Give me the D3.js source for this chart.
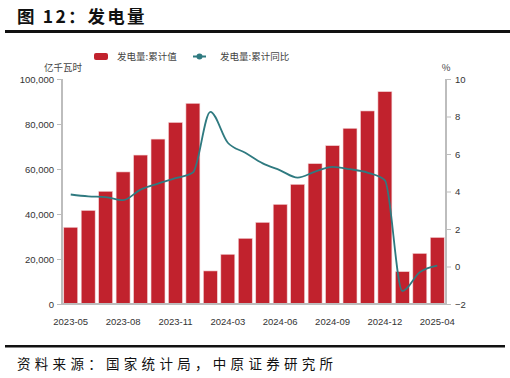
<!DOCTYPE html>
<html><head><meta charset="utf-8">
<script src="https://cdn.jsdelivr.net/npm/d3@7"></script>
<style>body{margin:0;background:#fff}svg{display:block}</style>
</head><body>
<script>
const categories = ["2023-05","2023-06","2023-07","2023-08","2023-09","2023-10","2023-11","2023-12",
  "2024-02","2024-03","2024-04","2024-05","2024-06","2024-07","2024-08","2024-09","2024-10","2024-11","2024-12",
  "2025-02","2025-03","2025-04"];
const cumValue = [34100,41600,50100,58700,66200,73300,80700,89200,
  14700,22100,29200,36300,44300,53200,62400,70400,78100,85800,94400,
  14400,22500,29600];
const cumYoY = [3.84,3.74,3.70,3.54,4.10,4.42,4.71,5.01,
  8.25,6.6,6.07,5.5,5.13,4.74,5.06,5.31,5.19,5.01,4.6,
  -1.31,-0.3,0.05];
const leftTicks = [0,20000,40000,60000,80000,100000];
const rightTicks = [-2,0,2,4,6,8,10];
const xTickLabels = ["2023-05","2023-08","2023-11","2024-03","2024-06","2024-09","2024-12","2025-04"];

const W=510,H=378;
const svg=d3.select("body").append("svg").attr("width",W).attr("height",H);
const x0=62,x1=446,yT=79,yB=304;
const x=d3.scaleBand().domain(categories).range([x0,x1]).paddingInner(0.2).paddingOuter(0.1);
const yL=d3.scaleLinear().domain([0,100000]).range([yB,yT]);
const yR=d3.scaleLinear().domain([-2,10]).range([yB,yT]);
const font="'Noto Sans CJK SC','Noto Sans',sans-serif";

// title
svg.append("text").attr("x",17).attr("y",23).attr("font-family",font).attr("font-weight","bold")
  .attr("font-size",17.5).attr("letter-spacing",2.2).attr("fill","#111").text("图 12：发电量");
svg.append("rect").attr("x",5).attr("y",30).attr("width",505).attr("height",3).attr("fill","#111");
svg.append("rect").attr("x",5).attr("y",345).attr("width",500).attr("height",2.5).attr("fill","#111");
svg.append("text").attr("x",17).attr("y",369).attr("font-family",font).attr("font-size",13.5)
  .attr("letter-spacing",4.3).attr("fill","#111").text("资料来源：国家统计局，中原证券研究所");

// bars
svg.append("g").selectAll("rect").data(categories).join("rect")
  .attr("x",d=>x(d)).attr("width",x.bandwidth())
  .attr("y",(d,i)=>yL(cumValue[i])).attr("height",(d,i)=>yB-yL(cumValue[i]))
  .attr("fill","#C1222D").attr("stroke","#f3d6d8").attr("stroke-width",0.6);

// line
const line=d3.line().x((d,i)=>x(categories[i])+x.bandwidth()/2).y(d=>yR(d)).curve(d3.curveMonotoneX);
svg.append("path").datum(cumYoY).attr("d",line).attr("fill","none").attr("stroke","#2F7A80").attr("stroke-width",1.8);

// axes
const axisColor="#bdbdbd";
const gl=svg.append("g").attr("transform",`translate(${x0},0)`).call(d3.axisLeft(yL).tickValues(leftTicks).tickFormat(d3.format(",")).tickSize(5).tickPadding(3));
const gr=svg.append("g").attr("transform",`translate(${x1},0)`).call(d3.axisRight(yR).tickValues(rightTicks).tickSize(5).tickPadding(4));
const gb=svg.append("g").attr("transform",`translate(0,${yB})`).call(d3.axisBottom(x).tickValues(xTickLabels).tickSize(0).tickPadding(14));
[gl,gr,gb].forEach(g=>{
  g.selectAll(".domain").attr("stroke",axisColor).attr("stroke-width",2);
  g.selectAll(".tick line").attr("stroke",axisColor).attr("stroke-width",1);
  g.selectAll("text").attr("font-family","'Liberation Sans',Arial,sans-serif").attr("font-size",9.5).attr("fill","#333");
});
gl.select(".domain").attr("d",`M0,${yT}V${yB}`);
gr.select(".domain").attr("d",`M0,${yT}V${yB}`);
gb.select(".domain").attr("d",`M${x0},0H${x1}`);

// units
svg.append("text").attr("x",63).attr("y",71).attr("text-anchor","middle").attr("font-family",font)
  .attr("font-size",9.5).attr("fill","#444").text("亿千瓦时");
svg.append("text").attr("x",446).attr("y",71).attr("text-anchor","middle").attr("font-family",font)
  .attr("font-size",9.5).attr("fill","#444").text("%");

// legend
svg.append("rect").attr("x",94).attr("y",53).attr("width",14).attr("height",7).attr("rx",2).attr("fill","#C1222D");
svg.append("text").attr("x",117).attr("y",60).attr("font-family",font).attr("font-size",9.5).attr("fill","#444").text("发电量:累计值");
svg.append("line").attr("x1",193).attr("x2",206).attr("y1",56.5).attr("y2",56.5).attr("stroke","#2F7A80").attr("stroke-width",2);
svg.append("circle").attr("cx",199.5).attr("cy",56.5).attr("r",3).attr("fill","#2F7A80");
svg.append("text").attr("x",220).attr("y",60).attr("font-family",font).attr("font-size",9.5).attr("fill","#444").text("发电量:累计同比");
</script>
</body></html>
